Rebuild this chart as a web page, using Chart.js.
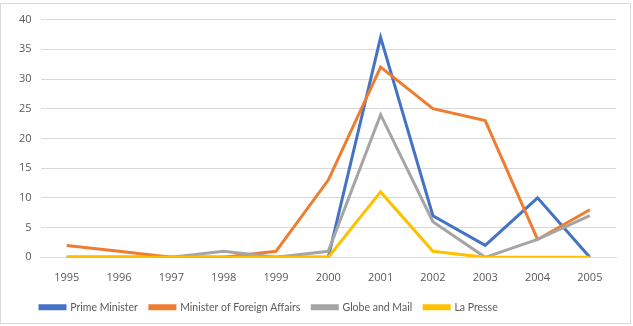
<!DOCTYPE html>
<html>
<head>
<meta charset="utf-8">
<script src="https://cdn.jsdelivr.net/npm/chart.js@4/dist/chart.umd.min.js"></script>
<style>
  body { margin: 0; background: #fff; }
  #wrap { position: absolute; left: 0; top: 3px; width: 629px; height: 319px; border: 1px solid #d9d9d9; }
</style>
</head>
<body>
<div id="wrap"><canvas id="lineChart"></canvas></div>
<script>
const years = ['1995', '1996', '1997', '1998', '1999', '2000', '2001', '2002', '2003', '2004', '2005'];
const primeMinister = [0, 0, 0, 0, 0, 0, 37, 7, 2, 10, 0];
const foreignAffairs = [2, 1, 0, 0, 1, 13, 32, 25, 23, 3, 8];
const globeAndMail = [0, 0, 0, 1, 0, 1, 24, 6, 0, 3, 7];
const laPresse = [0, 0, 0, 0, 0, 0, 11, 1, 0, 0, 0];

function serie(label, data, color, order) {
    return {
        label: label,
        data: data,
        borderColor: color,
        backgroundColor: color,
        borderWidth: 3,
        pointRadius: 0,
        tension: 0,
        order: order // excel draws later series on top
    };
}

// the legend in the original sits left of centre, near the bottom edge
const legendShift = {
    id: 'legendShift',
    afterLayout(chart) {
        const lg = chart.legend;
        const pad = lg.options.labels.padding;
        const h = lg.bottom - lg.top;
        lg.left = 39 - pad;
        lg.top = 304 - pad - 6;
        lg.bottom = lg.top + h;
    }
};

const ctx = document.getElementById('lineChart').getContext('2d');
new Chart(ctx, {
    type: 'line',
    data: {
        labels: years,
        datasets: [
            serie('Prime Minister', primeMinister, '#4472C4', 4),
            serie('Minister of Foreign Affairs', foreignAffairs, '#ED7D31', 3),
            serie('Globe and Mail', globeAndMail, '#A5A5A5', 2),
            serie('La Presse', laPresse, '#FFC000', 1)
        ]
    },
    options: {
        responsive: true,
        maintainAspectRatio: false,
        animation: false,
        layout: { padding: { left: 9, right: 14, top: 15, bottom: 0 } },
        plugins: {
            tooltip: { enabled: false },
            legend: {
                position: 'bottom',
                align: 'start',
                labels: {
                    sort: (a, b) => a.datasetIndex - b.datasetIndex,
                    boxWidth: 25,
                    boxHeight: 3,
                    padding: 12,
                    color: '#595959',
                    font: { family: 'Lato', size: 10.5 }
                }
            }
        },
        scales: {
            x: {
                offset: true,
                grid: { display: false },
                border: { color: '#d9d9d9' },
                ticks: { color: '#595959', padding: 6, font: { family: 'Open Sans', size: 11 }, maxRotation: 0 }
            },
            y: {
                min: 0,
                max: 40,
                ticks: { stepSize: 5, color: '#595959', padding: 9, font: { family: 'Open Sans', size: 11 } },
                grid: { color: '#d9d9d9', drawTicks: false },
                border: { display: false }
            }
        }
    },
    plugins: [legendShift]
});
</script>
</body>
</html>
